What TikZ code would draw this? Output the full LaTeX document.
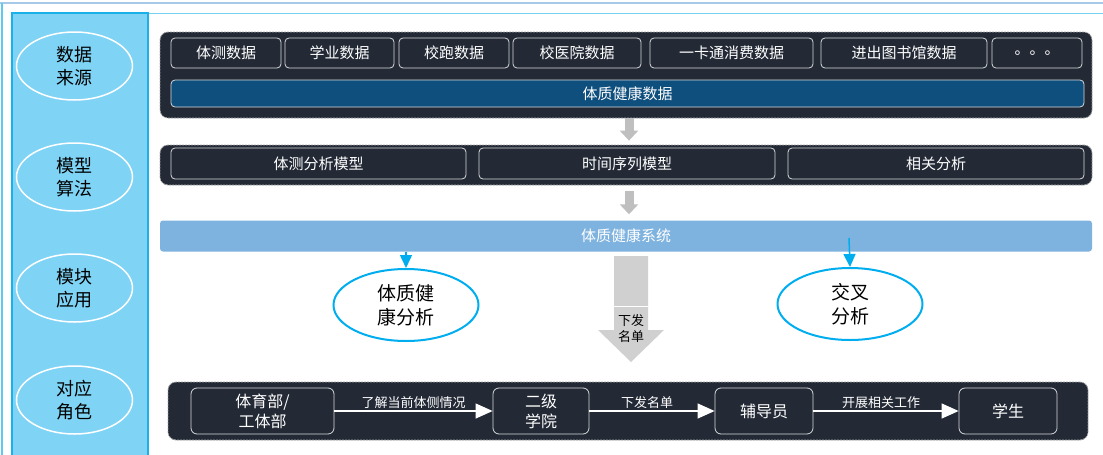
\documentclass[tikz,border=0pt]{standalone}
\usepackage{fontspec}
\setmainfont{Noto Sans CJK SC}
\usetikzlibrary{arrows.meta,shapes.geometric,calc}
\definecolor{darkbg}{HTML}{232A36}
\definecolor{panel}{HTML}{7FD4F5}
\definecolor{panelline}{HTML}{1AB0E8}
\definecolor{deepblue}{HTML}{0F4F7E}
\definecolor{lightbar}{HTML}{7EB2DF}
\definecolor{cyanc}{HTML}{00AEEF}
\definecolor{grayarr}{HTML}{BFBFBF}
\definecolor{bigarr}{HTML}{D0D0D0}
\definecolor{topline}{HTML}{A8C8E8}
\begin{document}
\begin{tikzpicture}[x=1pt,y=-1pt,
  darkbox/.style={fill=darkbg, draw=gray!70, dash pattern=on 2pt off 1pt, rounded corners=8pt, line width=0.8pt, inner sep=0pt},
  item/.style={draw=white!85!black, fill=darkbg, rounded corners=4pt, text=white, font=\fontsize{15}{18}\selectfont, line width=0.8pt, inner sep=0pt, align=center},
  role/.style={item, font=\fontsize{16}{20}\selectfont, rounded corners=6pt},
  side/.style={ellipse, draw=white, line width=1.5pt, minimum width=116pt, minimum height=68pt, inner sep=0pt, align=center, font=\fontsize{18}{23}\selectfont},
  app/.style={ellipse, draw=cyanc, fill=white, line width=2pt, minimum width=145pt, minimum height=72pt, inner sep=0pt, align=center, font=\fontsize{19}{24}\selectfont},
  grayarrow/.style={draw=grayarr, line width=9pt, -{Triangle[width=18pt,length=10pt]}},
  bluearrow/.style={draw=cyanc, line width=1.5pt, -{Triangle[width=12pt,length=13pt]}},
  rolearrow/.style={draw=white, line width=1.2pt, -{Triangle[width=15pt,length=17pt]}},
  elabel/.style={text=white, font=\fontsize{13}{15}\selectfont, inner sep=2pt}
]
\useasboundingbox (0,0) rectangle (1103,455);
% frame lines
\draw[topline, line width=1.5pt] (0,3) -- (1103,3);
\draw[panelline!70, line width=1.5pt] (2,3) -- (2,455);
\draw[panelline!60, line width=0.8pt] (148,13) -- (1103,13);
% left panel
\node[fill=panel, draw=panelline, line width=1.5pt, minimum width=136pt, minimum height=450pt, inner sep=0pt] (panel) at (80,238) {};
\node[side] (s1) at (74.5,66) {数据\\来源};
\node[side] (s2) at (74.5,177) {模型\\算法};
\node[side] (s3) at (74.5,288) {模块\\应用};
\node[side] (s4) at (74.5,400) {对应\\角色};
% data source block
\node[darkbox, minimum width=932pt, minimum height=86pt] (db) at (626,75) {};
\node[item, minimum width=110pt, minimum height=30pt] (d1) at (226,53) {体测数据};
\node[item, minimum width=109pt, minimum height=30pt] (d2) at (339.5,53) {学业数据};
\node[item, minimum width=110pt, minimum height=30pt] (d3) at (454,53) {校跑数据};
\node[item, minimum width=128pt, minimum height=30pt] (d4) at (577,53) {校医院数据};
\node[item, minimum width=163pt, minimum height=30pt] (d5) at (731.5,53) {一卡通消费数据};
\node[item, minimum width=166pt, minimum height=30pt] (d6) at (904,53) {进出图书馆数据};
\node[item, minimum width=90pt, minimum height=30pt] (d7) at (1037,53) {。。。};
\node[item, fill=deepblue, minimum width=913pt, minimum height=27pt] (hd) at (627.5,93.5) {体质健康数据};
% model block
\node[darkbox, minimum width=932pt, minimum height=40pt] (mb) at (626,165) {};
\node[item, minimum width=295pt, minimum height=31pt] (m1) at (318.5,163.5) {体测分析模型};
\node[item, minimum width=296pt, minimum height=31pt] (m2) at (627,163.5) {时间序列模型};
\node[item, minimum width=296pt, minimum height=31pt] (m3) at (936,163.5) {相关分析};
\draw[grayarrow] ([xshift=3pt]db.south) -- ([xshift=3pt]$(mb.north)+(0,-4)$);
% system bar
\node[fill=lightbar, rounded corners=3pt, minimum width=932pt, minimum height=31pt, inner sep=0pt, text=white, font=\fontsize{15}{18}\selectfont] (sys) at (626,236) {体质健康系统};
\draw[grayarrow] ([xshift=3pt]$(mb.south)+(0,6)$) -- ([xshift=3pt]$(sys.north)+(0,-6)$);
% applications
\node[app] (a1) at (406,305) {体质健\\康分析};
\node[app] (a2) at (850,304) {交叉\\分析};
\draw[bluearrow] (a1.north |- sys.south) -- (a1.north);
\coordinate (rs) at (849,238);
\draw[bluearrow] (rs) -- (a2.north);
% big arrow
\fill[bigarr] (614,256) -- (648,256) -- (648,330) -- (664,330) -- (631,362) -- (598,330) -- (614,330) -- cycle;
\draw[white, line width=0.8pt] (614,306) -- (648,306);
\node[font=\fontsize{13}{16}\selectfont, align=center, inner sep=0pt] (xf) at (631,329) {下发\\名单};
% roles block
\node[darkbox, minimum width=920pt, minimum height=58pt] (rb) at (628,411) {};
\node[role, minimum width=143pt, minimum height=46pt] (r1) at (262.5,411) {体育部/\\工体部};
\node[role, minimum width=96pt, minimum height=46pt] (r2) at (541,411) {二级\\学院};
\node[role, minimum width=98pt, minimum height=46pt] (r3) at (764,411) {辅导员};
\node[role, minimum width=98pt, minimum height=46pt] (r4) at (1008,411) {学生};
\draw[rolearrow] (r1) -- node[elabel, midway, above] {了解当前体侧情况} (r2);
\draw[rolearrow] (r2) -- node[elabel, midway, above, xshift=-5pt] {下发名单} (r3);
\draw[rolearrow] (r3) -- node[elabel, midway, above, xshift=-5pt] {开展相关工作} (r4);
\end{tikzpicture}
\end{document}
